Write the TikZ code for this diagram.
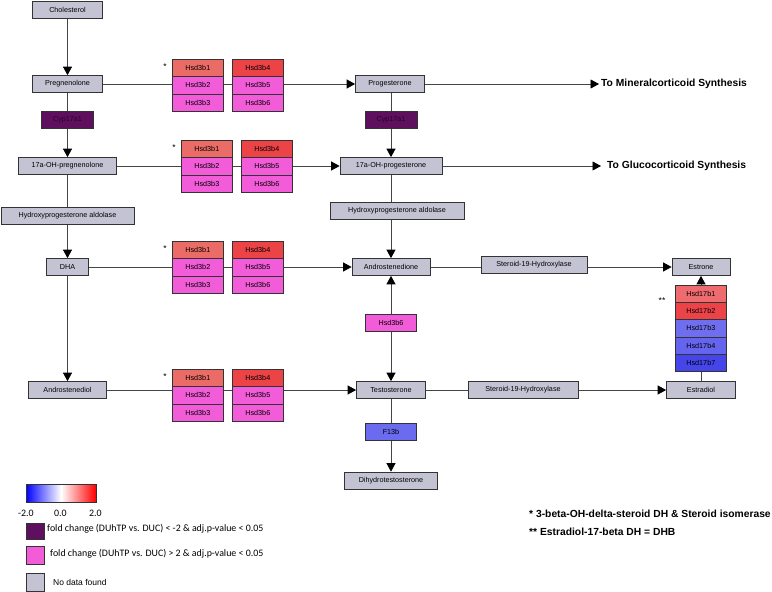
\documentclass[tikz,border=0pt]{standalone}
\usepackage{fontspec}
\setmainfont{Liberation Sans}
\newfontfamily\legendfont{Carlito}
\usetikzlibrary{arrows.meta,positioning,backgrounds}
\definecolor{noData}{HTML}{C4C3D4}
\definecolor{boxLine}{HTML}{333333}
\definecolor{lineGrey}{HTML}{444444}
\definecolor{hsdPink}{HTML}{F25CD8}
\definecolor{hsdSalmon}{HTML}{EB6C66}
\definecolor{hsdRed}{HTML}{EC4347}
\definecolor{cypPurple}{HTML}{5E0F5E}
\definecolor{cypText}{HTML}{2A022A}
\definecolor{fBlue}{HTML}{6B6BF0}
\definecolor{hsdA}{HTML}{EE6B70}
\definecolor{hsdB}{HTML}{EC4349}
\definecolor{hsdC}{HTML}{6E6EEF}
\definecolor{hsdD}{HTML}{6464EE}
\definecolor{hsdE}{HTML}{4545EA}

\begin{document}
\begin{tikzpicture}[x=1pt,y=-1pt,>={Triangle[length=8.5pt,width=9pt,color=black]},
  box/.style={draw=boxLine,fill=noData,line width=0.7pt,minimum height=17pt,inner sep=0pt,font=\fontsize{7.2}{8}\selectfont},
  gene/.style={box,minimum width=51pt,minimum height=17.3pt},
  link/.style={draw=lineGrey,line width=0.8pt},
  bigtext/.style={font=\fontsize{10.3}{12}\selectfont\bfseries,anchor=west,inner sep=0pt},
  legtext/.style={font=\legendfont\fontsize{9.9}{11}\selectfont,anchor=west,inner sep=0pt},
  notetext/.style={font=\fontsize{10.3}{12}\selectfont\bfseries,anchor=west,inner sep=0pt}]
  \useasboundingbox (0,0) rectangle (772,592);
  % left column
  \node[box,minimum width=70] (chol) at (67.5,9.5) {Cholesterol};
  \node[box,minimum width=70] (pregn) at (67.5,84) {Pregnenolone};
  \node[box,minimum width=52,fill=cypPurple,text=cypText] (cypl) at (67.5,119.5) {Cyp17a1};
  \node[box,minimum width=98] (ohpregn) at (67.5,166) {17a-OH-pregnenolone};
  \node[box,minimum width=133] (aldl) at (67.5,215.5) {Hydroxyprogesterone aldolase};
  \node[box,minimum width=42] (dha) at (67.5,267) {DHA};
  \node[box,minimum width=78] (andiol) at (67.5,390) {Androstenediol};
  % right column
  \node[box,minimum width=69] (prog) at (390,84) {Progesterone};
  \node[box,minimum width=52,fill=cypPurple,text=cypText] (cypr) at (391,119.5) {Cyp17a1};
  \node[box,minimum width=102] (ohprog) at (391,166) {17a-OH-progesterone};
  \node[box,minimum width=134] (aldr) at (397,211) {Hydroxyprogesterone aldolase};
  \node[box,minimum width=78] (andione) at (391,267) {Androstenedione};
  \node[gene,minimum height=17,fill=hsdPink] (hsdsix) at (391,323) {Hsd3b6};
  \node[box,minimum width=69] (testo) at (391,390) {Testosterone};
  \node[gene,minimum height=17,fill=fBlue] (ftb) at (391,432) {F13b};
  \node[box,minimum width=93] (dht) at (391,480.5) {Dihydrotestosterone};
  \node[box,minimum width=106] (hydrxa) at (534,265) {Steroid-19-Hydroxylase};
  \node[box,minimum width=110] (hydrxb) at (523,389.5) {Steroid-19-Hydroxylase};
  \node[box,minimum width=58] (estrone) at (701,267) {Estrone};
  \node[box,minimum width=69] (estradiol) at (701,390) {Estradiol};
  % Hsd3b isoenzyme groups
  \foreach \g/\xa/\xb/\yt in {1/172/232/59, 2/181/241/140, 3/172/232/241, 4/172/232/369}{
    \node[gene,anchor=north west,fill=hsdSalmon] (g\g b1) at (\xa,\yt) {Hsd3b1};
    \node[gene,anchor=north west,fill=hsdPink] (g\g b2) at (\xa,\yt+17.3) {Hsd3b2};
    \node[gene,anchor=north west,fill=hsdPink] (g\g b3) at (\xa,\yt+34.6) {Hsd3b3};
    \node[gene,anchor=north west,fill=hsdRed] (g\g b4) at (\xb,\yt) {Hsd3b4};
    \node[gene,anchor=north west,fill=hsdPink] (g\g b5) at (\xb,\yt+17.3) {Hsd3b5};
    \node[gene,anchor=north west,fill=hsdPink] (g\g b6) at (\xb,\yt+34.6) {Hsd3b6};
    \node[font=\fontsize{8.5}{9}\selectfont,inner sep=0pt] (star\g) at (\xa-7,\yt+8) {*};}
  % Hsd17b stack
  \foreach \n/\c [count=\i from 0] in {1/hsdA,2/hsdB,3/hsdC,4/hsdD,7/hsdE}
    \node[gene,minimum height=17.2,anchor=north west,fill=\c] (hsdsb\n) at (675,285+17.2*\i) {Hsd17b\n};
  \node[font=\fontsize{8.5}{9}\selectfont,inner sep=0pt] (starstar) at (662,301) {**};
  % outgoing pathways
  \node[bigtext] (mineral) at (601,84) {To Mineralcorticoid Synthesis};
  \node[bigtext] (gluco) at (607,166) {To Glucocorticoid Synthesis};
  % connectors
  \begin{scope}[on background layer]
    \draw[link,->] (chol) -- (pregn);
    \draw[link,->] (pregn) -- (ohpregn);
    \draw[link,->] (ohpregn) -- (dha);
    \draw[link,->] (dha) -- (andiol);
    \draw[link,->] (pregn) -- (prog);
    \draw[link,->] (ohpregn) -- (ohprog);
    \draw[link,->] (dha) -- (andione);
    \draw[link,->] (andiol) -- (testo);
    \draw[link,->] (prog.south -| cypr) -- (ohprog);
    \draw[link,->] (ohprog) -- (andione);
    \draw[link,<->] (andione) -- (testo);
    \draw[link,->] (testo) -- (dht);
    \draw[link,->] (andione) -- (estrone);
    \draw[link,->] (testo) -- (estradiol);
    \draw[link,->] (estradiol) -- (estrone);
    \draw[link,->,shorten >=2pt] (prog) -- (mineral);
    \draw[link,->,shorten >=6pt] (ohprog) -- (gluco);
  \end{scope}
  % legend
  \shade[left color=blue,right color=red,middle color=white] (26,484) rectangle (96,502);
  \draw[boxLine,line width=0.7pt] (26,484) rectangle (96,502);
  \node[legtext] (tkl) at (18,513) {-2.0};
  \node[legtext] (tkm) at (54,513) {0.0};
  \node[legtext] (tkr) at (89,513) {2.0};
  \node[box,minimum width=18,minimum height=16,fill=cypPurple] (keylo) at (35,531) {};
  \node[legtext] (keylotxt) at (47,529) {fold change (DUhTP vs. DUC) < -2 \& adj.p-value < 0.05};
  \node[box,minimum width=18,minimum height=18,fill=hsdPink] (keyhi) at (35,555) {};
  \node[legtext] (keyhitxt) at (50,554) {fold change (DUhTP vs. DUC) > 2 \& adj.p-value < 0.05};
  \node[box,minimum width=18,minimum height=18] (keyna) at (35,582) {};
  \node[anchor=west,inner sep=0pt,font=\fontsize{8.5}{10}\selectfont] (keynatxt) at (53,582) {No data found};
  % footnotes
  \node[notetext] (noteone) at (529,514) {* 3-beta-OH-delta-steroid DH \& Steroid isomerase};
  \node[notetext] (notetwo) at (529,532) {** Estradiol-17-beta DH = DHB};
\end{tikzpicture}
\end{document}
